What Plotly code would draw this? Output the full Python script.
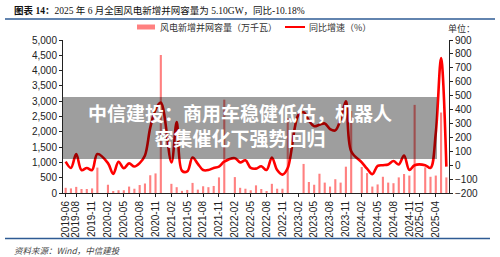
import plotly.graph_objects as go
import pandas as pd

# ---------------- data ----------------
months = [p.strftime("%Y-%m") for p in pd.period_range("2019-06", "2025-06", freq="M")]

capacity = [  # 风电新增并网容量（万千瓦）
    170, 150, 200, 130, 130, 150, 830,                                   # 2019-06..12
    None, 270, 40, 90, 90, 210, 140, 260, 310, 580, 640, 4510,            # 2020
    None, 300, 190, 70, 100, 330, 110, 220, 190, 230, 510, 3050,          # 2021
    None, 520, 170, 140, 90, 250, 130, 60, 300, 140, 140, 2450,           # 2022
    None, None, 950, 360, 270, 630, 340, 210, 450, 340, 860, 2680,        # 2023
    None, 850, 650, 210, 280, 530, 340, 320, 510, 620, 570, 2880,         # 2024
    None, 840, 530, 570, 2630, 510,                                       # 2025
]

yoy = [  # 同比增速（%）
    25, -20, 80, -35, -20, -35, 80,
    None, 15, -63, 25, -22, 13, -10, 15, 70, 270, 400, 450,
    None, 20, 310, -40, -45, 55, 10, -35, -35, -20, -10, 25,
    None, 50, 20, 35, -20, -25, -8, -35, 55, -35, -68, -20,
    None, 360, 380, 320, 280, 290, 300, 260, 250, 330, 460, 100,
    None, 20, -25, -65, -5, 0, 5, 30, 5, 70, -35, 0,
    None, 0, -20, 230, 770, -10.18,
]

tick_labels = ["2019-06", "2019-08", "2019-11", "2020-02", "2020-05", "2020-08", "2020-11",
               "2021-02", "2021-05", "2021-08", "2021-11", "2022-02", "2022-05", "2022-08",
               "2022-11", "2023-02", "2023-05", "2023-08", "2023-11", "2024-02", "2024-05",
               "2024-08", "2024-11", "2025-01", "2025-04"]

title_text = "<b>图表 14：</b>2025 年 6 月全国风电新增并网容量为 5.10GW，同比-10.18%"
legend_bar = "风电新增并网容量（万千瓦）"
legend_line = "同比增速（%）"
unit_text = "单位："
source_text = "<i>资料来源：Wind，中信建投</i>"
banner_text = "<b>中信建投：商用车稳健低估，机器人<br>密集催化下强势回归</b>"

BAR_COLOR = "rgb(255,128,128)"
LINE_COLOR = "#FF0000"
BLUE = "#2E5B94"
FONT = "Liberation Sans, Arial, sans-serif"
CJK = "Noto Sans CJK SC, sans-serif"
SERIF = "Liberation Serif, Noto Sans CJK SC, serif"

fig = go.Figure()
fig.add_trace(go.Bar(x=months, y=capacity, name=legend_bar, marker_color=BAR_COLOR,
                     marker_line_width=0, width=0.4, yaxis="y"))
fig.add_trace(go.Scatter(x=months, y=yoy, name=legend_line, mode="lines",
                         line=dict(color=LINE_COLOR, width=2.6, shape="spline", smoothing=1.0),
                         connectgaps=True, yaxis="y2"))

# pixel -> paper helpers (plot area: x 63..449, y 40..193)
L, R, T, B = 63, 449, 40, 193
def px(x):
    return (x - L) / (R - L)
def py(y):
    return (B - y) / (B - T)

fig.update_layout(
    width=500, height=257,
    margin=dict(l=L, r=500 - R, t=T, b=257 - B),
    paper_bgcolor="white", plot_bgcolor="white",
    showlegend=False,
    font=dict(family=FONT, size=10, color="#222"),
    xaxis=dict(type="category", categoryorder="array", categoryarray=months,
               range=[-0.5, len(months) - 0.5],
               tickmode="array", tickvals=tick_labels, ticktext=tick_labels,
               tickangle=-90, showline=True, linecolor="#222", linewidth=1,
               ticks="outside", ticklen=3, tickcolor="#222", showgrid=False,
               tickfont=dict(size=10, family=FONT)),
    yaxis=dict(range=[0, 5000], dtick=500, tickformat=",d", showline=True, linecolor="#222",
               ticks="outside", ticklen=3, tickcolor="#222", showgrid=False, zeroline=False,
               tickfont=dict(size=10, family=FONT)),
    yaxis2=dict(range=[-200, 900], dtick=100, overlaying="y", side="right", showline=True,
                linecolor="#222", ticks="outside", ticklen=3, tickcolor="#222",
                showgrid=False, zeroline=False, tickfont=dict(size=10, family=FONT)),
)

shapes = [
    # title rule
    dict(type="line", xref="paper", yref="paper", x0=px(5), x1=px(495), y0=py(19), y1=py(19),
         line=dict(color=BLUE, width=1.5)),
    # bottom rule
    dict(type="line", xref="paper", yref="paper", x0=px(5), x1=px(490), y0=py(238.5), y1=py(238.5),
         line=dict(color=BLUE, width=1.5)),
    # legend swatches
    dict(type="rect", xref="paper", yref="paper", x0=px(137), x1=px(155), y0=py(29.5), y1=py(24.5),
         fillcolor=BAR_COLOR, line=dict(width=0)),
    dict(type="line", xref="paper", yref="paper", x0=px(285), x1=px(305), y0=py(27), y1=py(27),
         line=dict(color=LINE_COLOR, width=2)),
    # watermark banner
    dict(type="rect", xref="paper", yref="paper", x0=px(63), x1=px(437), y0=py(159), y1=py(97),
         fillcolor="rgba(0,0,0,0.38)", line=dict(width=0), layer="above"),
]
fig.update_layout(shapes=shapes)

ann = [
    dict(text=title_text, x=px(12), y=py(10), xanchor="left", yanchor="middle",
         font=dict(family=SERIF, size=9.5, color="#111")),
    dict(text=legend_bar, x=px(158), y=py(27.5), xanchor="left", yanchor="middle",
         font=dict(family=CJK, size=9, color="#333")),
    dict(text=legend_line, x=px(307), y=py(27.5), xanchor="left", yanchor="middle",
         font=dict(family=CJK, size=9, color="#333")),
    dict(text=unit_text, x=px(446), y=py(28), xanchor="left", yanchor="middle",
         font=dict(family=CJK, size=9, color="#333")),
    dict(text=source_text, x=px(12), y=py(250), xanchor="left", yanchor="middle",
         font=dict(family=CJK, size=8.5, color="#444")),
    dict(text=banner_text, x=px(239.5), y=py(125), xanchor="center", yanchor="middle",
         align="center", font=dict(family=CJK, size=19, color="white")),
]
for a in ann:
    a.update(xref="paper", yref="paper", showarrow=False)
fig.update_layout(annotations=ann)

fig.write_html("out.html")
